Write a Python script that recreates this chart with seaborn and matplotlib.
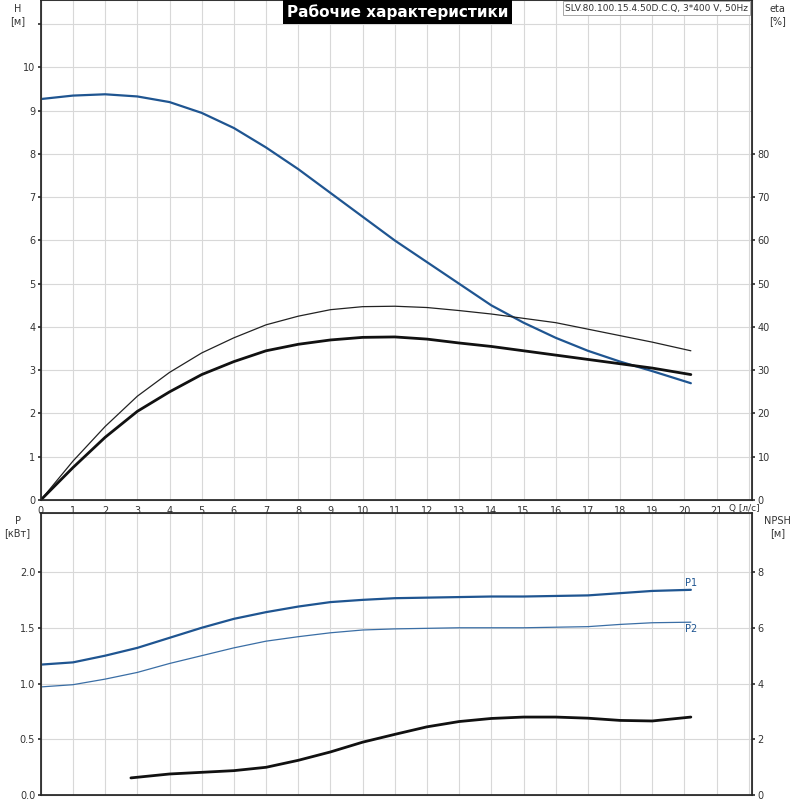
import numpy as np
import matplotlib
matplotlib.use("Agg")
import matplotlib.pyplot as plt
import seaborn as sns

# Данные
q_h = [0, 1, 2, 3, 4, 5, 6, 7, 8, 9, 10, 11, 12, 13, 14, 15, 16, 17, 18, 19, 20.2]
h_vals = [9.27, 9.35, 9.38, 9.33, 9.2, 8.95, 8.6, 8.15, 7.65, 7.1, 6.55, 6.0, 5.5, 5.0, 4.5,
          4.1, 3.75, 3.45, 3.2, 2.98, 2.7]
eta_thin = [0, 9, 17, 24, 29.5, 34, 37.5, 40.5, 42.5, 44, 44.7, 44.8, 44.5, 43.8, 43,
            42, 41, 39.5, 38, 36.5, 34.5]
eta_thick = [0, 7.5, 14.5, 20.5, 25, 29, 32, 34.5, 36, 37, 37.6, 37.7, 37.2, 36.3, 35.5,
             34.5, 33.5, 32.5, 31.5, 30.5, 29]
p1_vals = [1.17, 1.19, 1.25, 1.32, 1.41, 1.5, 1.58, 1.64, 1.69, 1.73, 1.75, 1.765, 1.77,
           1.775, 1.78, 1.78, 1.785, 1.79, 1.81, 1.83, 1.84]
p2_vals = [0.97, 0.99, 1.04, 1.1, 1.18, 1.25, 1.32, 1.38, 1.42, 1.455, 1.48, 1.49, 1.495,
           1.5, 1.5, 1.5, 1.505, 1.51, 1.53, 1.545, 1.55]
q_npsh = [2.8, 4, 6, 7, 8, 9, 10, 11, 12, 13, 14, 15, 16, 17, 18, 19, 20.2]
npsh_vals = [0.62, 0.76, 0.88, 1.0, 1.25, 1.55, 1.9, 2.18, 2.45, 2.64, 2.75, 2.8, 2.8,
             2.76, 2.68, 2.66, 2.8]

sns.set_theme(style="white")
plt.rcParams['font.family'] = ['DejaVu Sans']

blue = "#1f5591"
fig = plt.figure(figsize=(8, 8), dpi=100)
ax1 = fig.add_axes([0.051, 0.375, 0.889, 0.625])
ax2 = fig.add_axes([0.051, 0.006, 0.889, 0.353])

for ax in (ax1, ax2):
    ax.set_xlim(0, 22.1)
    ax.set_xticks(range(0, 23))
    ax.grid(True, color="#d8d8d8", lw=0.8)
    ax.set_axisbelow(True)
    for s in ax.spines.values():
        s.set_color("#999999")
        s.set_linewidth(0.8)
    ax.tick_params(labelsize=7, length=2, pad=2, colors="#333333")

# Верхний график: H и КПД
ax1.set_ylim(0, 11.56)
ax1.set_yticks(range(0, 12))
ax1.set_yticklabels([str(i) for i in range(0, 11)] + [""])
ax1.set_xticklabels([str(i) for i in range(0, 22)] + [""])
sns.lineplot(x=q_h, y=h_vals, ax=ax1, color=blue, lw=1.6)
ax1r = ax1.twinx()
ax1r.set_ylim(0, 115.6)
ax1r.set_yticks(range(0, 90, 10))
ax1r.tick_params(labelsize=7, length=2, pad=2, colors="#333333")
ax1r.grid(False)
sns.lineplot(x=q_h, y=eta_thin, ax=ax1r, color="#222222", lw=0.9)
sns.lineplot(x=q_h, y=eta_thick, ax=ax1r, color="#111111", lw=2.0)
ax1.text(21.4, -0.1, "Q [л/с]", fontsize=6.5, ha="left", va="top", color="#333333")
fig.text(0.022, 0.995, "H\n[м]", fontsize=7, ha="center", va="top", color="#333333")
fig.text(0.972, 0.995, "eta\n[%]", fontsize=7, ha="center", va="top", color="#333333")
fig.text(0.497, 0.985, "Рабочие характеристики", fontsize=11, ha="center", va="center",
         color="white", fontweight="bold",
         bbox=dict(facecolor="black", edgecolor="none", pad=3))
fig.text(0.935, 0.99, "SLV.80.100.15.4.50D.C.Q, 3*400 V, 50Hz", fontsize=6.5, ha="right",
         va="center", color="#333333",
         bbox=dict(facecolor="white", edgecolor="#999999", pad=1.5, lw=0.6))

# Нижний график: мощность и NPSH
ax2.set_ylim(0, 2.53)
ax2.set_yticks([0, 0.5, 1.0, 1.5, 2.0])
ax2.set_yticklabels(["0.0", "0.5", "1.0", "1.5", "2.0"])
ax2.set_xticklabels([])
sns.lineplot(x=q_h, y=p1_vals, ax=ax2, color=blue, lw=1.6)
sns.lineplot(x=q_h, y=p2_vals, ax=ax2, color="#3a6ea5", lw=0.9)
ax2.text(20.2, 1.86, "P1", fontsize=7, color=blue, ha="center", va="bottom")
ax2.text(20.2, 1.53, "P2", fontsize=7, color=blue, ha="center", va="top")
ax2r = ax2.twinx()
ax2r.set_ylim(0, 10.12)
ax2r.set_yticks([0, 2, 4, 6, 8])
ax2r.tick_params(labelsize=7, length=2, pad=2, colors="#333333")
ax2r.grid(False)
sns.lineplot(x=q_npsh, y=npsh_vals, ax=ax2r, color="#111111", lw=2.0)
fig.text(0.022, 0.355, "P\n[кВт]", fontsize=7, ha="center", va="top", color="#333333")
fig.text(0.972, 0.355, "NPSH\n[м]", fontsize=7, ha="center", va="top", color="#333333")

for ax in (ax1, ax1r, ax2, ax2r):
    ax.set_xlabel("")
    ax.set_ylabel("")

fig.savefig("out.png", dpi=100, facecolor="white")
